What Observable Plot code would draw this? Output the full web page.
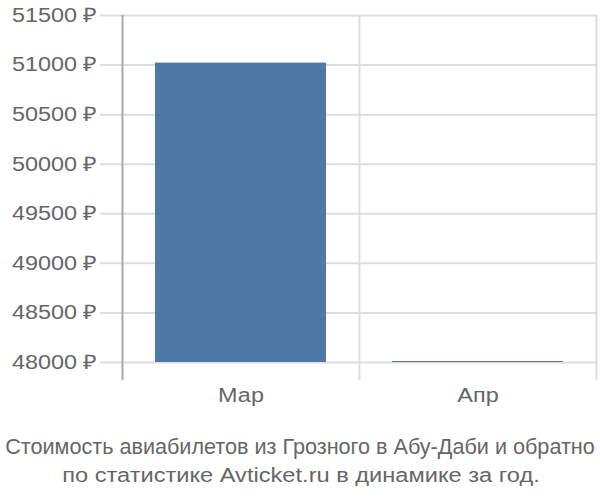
<!DOCTYPE html>
<html>
<head>
<meta charset="utf-8">
<script src="https://cdn.jsdelivr.net/npm/d3@7"></script>
<script src="https://cdn.jsdelivr.net/npm/@observablehq/plot@0.6"></script>
<style>
  body { margin: 0; background: #fff; }
  #chart svg, #caption { display: block; }
</style>
</head>
<body>
<div id="chart"></div>
<svg id="caption" width="600" height="80" font-family="Liberation Sans, Arial, sans-serif" fill="#666" text-anchor="middle">
  <text id="cap1" transform="translate(300,34)" font-size="22">Стоимость авиабилетов из Грозного в Абу-Даби и обратно</text>
  <text id="cap2" transform="translate(301,62)" font-size="21">по статистике Avticket.ru в динамике за год.</text>
</svg>
<script>
const months = ["Мар", "Апр"];
const prices = [51020, 48010];
const yTicks = [48000, 48500, 49000, 49500, 50000, 50500, 51000, 51500];

const data = months.map((m, i) => ({month: m, price: prices[i]}));

const W = 600, ML = 122, MR = 4, PI = 0.28, PO = 0.14;
const step = (W - ML - MR) / (months.length - PI + 2 * PO);

const chart = Plot.plot({
  width: W,
  height: 420,
  marginLeft: ML,
  marginRight: MR,
  marginTop: 15,
  marginBottom: 40,
  style: {fontFamily: "Liberation Sans, Arial, sans-serif", fontSize: "20px", color: "#666"},
  x: {domain: months, paddingInner: PI, paddingOuter: PO, label: null},
  y: {domain: [48000, 51500], insetBottom: 18, label: null},
  marks: [
    Plot.ruleY(yTicks, {y: d => d, stroke: "#ddd", strokeWidth: 2, insetLeft: -22}),
    Plot.ruleX(months, {x: d => d, dx: -step / 2, stroke: d => d === months[0] ? "#aaa" : "#ddd", strokeWidth: 2}),
    Plot.ruleX([months[months.length - 1]], {x: d => d, dx: step / 2, stroke: "#ddd", strokeWidth: 2}),
    Plot.barY(data, {x: "month", y1: 48000, y2: "price", fill: "#4e79a7"}),
    Plot.axisY(yTicks, {tickSize: 0, tickPadding: 25, tickFormat: d => `${d} ₽`, fill: "#666", fontSize: 20}),
    Plot.axisX({tickSize: 0, tickPadding: 7, fill: "#666", fontSize: 20})
  ]
});
document.getElementById("chart").appendChild(chart);
// widen axis labels horizontally like the reference rendering
chart.querySelectorAll('g[aria-label="y-axis tick label"] text, g[aria-label="x-axis tick label"] text').forEach(t => {
  const len = t.getComputedTextLength();
  t.setAttribute("textLength", (len * 1.17).toFixed(1));
  t.setAttribute("lengthAdjust", "spacingAndGlyphs");
});
// fit caption lines to the widths seen in the reference
[["cap1", 300, 34, 590], ["cap2", 301, 62, 478]].forEach(([id, x, y, w]) => {
  const t = document.getElementById(id);
  const len = t.getComputedTextLength();
  t.setAttribute("transform", `translate(${x},${y}) scale(${(w / len).toFixed(4)},1)`);
});
</script>
</body>
</html>
